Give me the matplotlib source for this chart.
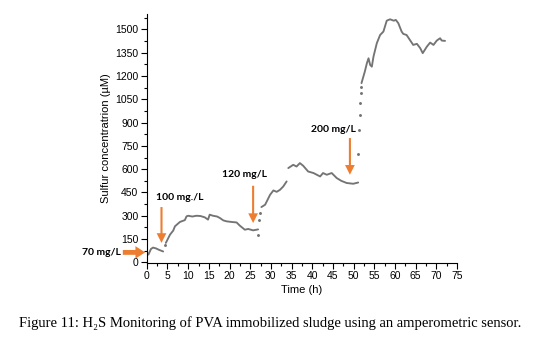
import matplotlib.pyplot as plt
import numpy as np
from matplotlib.ticker import MultipleLocator

# 数据：连续段（线）与跳变处的稀疏点
seg1_t = [0, 0.4, 1.0, 1.5, 2.2, 3.0, 3.95]
seg1_v = [64, 50, 86, 95, 90, 80, 70]

seg2_t = [4.6, 5.6, 6.4, 6.8, 8, 9.2, 9.6, 10, 11, 12, 13, 14, 14.8, 15.2, 16, 17,
          17.7, 18.5, 19.3, 20.5, 21.7, 22.5, 23.7, 24.5, 25.7, 26.9]
seg2_v = [125, 178, 205, 232, 260, 272, 296, 300, 295, 300, 298, 290, 275, 307, 300, 295,
          285, 270, 264, 260, 257, 236, 210, 215, 206, 212]

seg3_t = [27.7, 28.6, 29.8, 30.6, 31.4, 32.2, 33, 33.8]
seg3_v = [356, 371, 435, 463, 454, 467, 489, 521]

seg4_t = [34.2, 35.4, 36.2, 37, 37.8, 39, 40.3, 41.9, 42.6, 43.5, 44.7, 45.9, 47, 48.3,
          49.9, 51.1]
seg4_v = [607, 628, 617, 639, 622, 585, 575, 553, 575, 564, 575, 543, 525, 511, 506, 514]

seg5_t = [51.9, 52.7, 53.2, 53.6, 54, 54.4, 54.8, 55.6, 56.4, 57.2, 58, 58.8, 59.7, 60.2,
          60.8, 61.6, 62, 62.8, 63.6, 64.4, 65.3, 66.1, 66.7, 67.7, 68.5, 69.3, 70.1,
          70.9, 71.3, 72.1]
seg5_v = [1154, 1228, 1282, 1314, 1271, 1260, 1325, 1411, 1464, 1486, 1556, 1565, 1556,
          1561, 1540, 1486, 1471, 1464, 1432, 1400, 1407, 1379, 1347, 1389, 1415, 1400,
          1428, 1443, 1428, 1426]

dots_t = [4.35, 27.0, 27.2, 27.4, 51.15, 51.4, 51.45, 51.5, 51.7, 51.8]
dots_v = [110, 174, 275, 318, 699, 853, 950, 1025, 1089, 1128]

# 加药标注：(文字, 文字位置t, 文字位置v, 箭头起点, 箭头终点)
dose_labels = ["100 mg./L", "120 mg/L", "200 mg/L"]
label_pos = [(8.0, 420), (23.5, 564), (45.0, 858)]
arrow_from = [(3.55, 356), (25.7, 493), (49.1, 800)]
arrow_to = [(3.55, 125), (25.7, 253), (49.1, 564)]

gray = "#747474"
orange = "#ED7D31"

fig = plt.figure(figsize=(5.54, 3.38), dpi=100)
ax = fig.add_axes([0.265, 0.222, 0.56, 0.737])

for t, v in [(seg1_t, seg1_v), (seg2_t, seg2_v), (seg3_t, seg3_v),
             (seg4_t, seg4_v), (seg5_t, seg5_v)]:
    ax.plot(t, v, color=gray, lw=1.35, solid_capstyle="round")
ax.plot(dots_t, dots_v, "o", color=gray, ms=1.1, lw=0)

ax.set_xlim(0, 75)
ax.set_ylim(-4, 1600)
ax.xaxis.set_major_locator(MultipleLocator(5))
ax.xaxis.set_minor_locator(MultipleLocator(2.5))
ax.yaxis.set_major_locator(MultipleLocator(150))
ax.yaxis.set_minor_locator(MultipleLocator(75))
ax.set_yticks(np.arange(0, 1501, 150))
ax.spines["top"].set_visible(False)
ax.spines["right"].set_visible(False)
for s in ["left", "bottom"]:
    ax.spines[s].set_linewidth(0.8)
ax.tick_params(which="major", direction="out", length=4, width=0.8, labelsize=7.5, pad=2)
ax.tick_params(which="minor", direction="out", length=2, width=0.8)
for lab in ax.get_xticklabels() + ax.get_yticklabels():
    lab.set_fontfamily("Liberation Sans")

ax.set_xlabel("Time (h)", fontsize=8, family="Liberation Sans", labelpad=3)
ax.set_ylabel("Sulfur concentratrion (µM)", fontsize=8, family="Liberation Sans", labelpad=3)

# 70 mg/L 水平箭头
ax.annotate("", xy=(-0.4, 64), xytext=(-5.8, 64), annotation_clip=False,
            arrowprops=dict(arrowstyle="simple,head_width=0.9,head_length=0.7,tail_width=0.35",
                            color=orange, lw=0, shrinkA=0, shrinkB=0))
ax.text(-6.2, 64, "70 mg/L", ha="right", va="center", fontsize=7.5, fontweight="bold",
        family="Lato", clip_on=False)

for lab, (lt, lv), a0, a1 in zip(dose_labels, label_pos, arrow_from, arrow_to):
    ax.annotate("", xy=a1, xytext=a0,
                arrowprops=dict(arrowstyle="simple,head_width=0.7,head_length=0.7,tail_width=0.15",
                                color=orange, lw=0, shrinkA=0, shrinkB=0))
    ax.text(lt, lv, lab, ha="center", va="center", fontsize=7.5, fontweight="bold", family="Lato")

fig.text(0.488, 0.045, "Figure 11: H₂S Monitoring of PVA immobilized sludge using an amperometric sensor.",
         ha="center", va="center", fontsize=10.5, family=["Liberation Serif", "DejaVu Serif"])

fig.savefig("out.png", dpi=100)
